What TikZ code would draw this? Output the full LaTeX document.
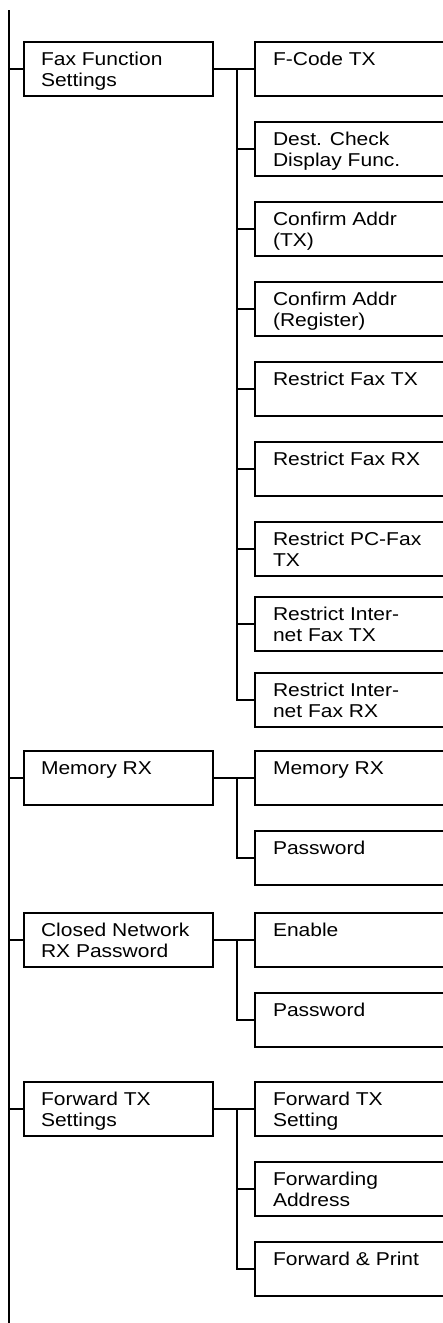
\documentclass[tikz,border=0pt]{standalone}
\usepackage{fontspec}
\setmainfont{Liberation Sans}[FakeStretch=1.13]
\newcommand{\lcell}[1]{\parbox[c][54pt][t]{154pt}{\rule{0pt}{23.5pt}#1}}
\newcommand{\rcell}[1]{\parbox[c][54pt][t]{163pt}{\rule{0pt}{23.5pt}#1}}
\begin{document}
\begin{tikzpicture}[x=1pt, y=-1pt, line width=2pt,
	menu/.style={draw, anchor=north west, outer sep=0pt, inner ysep=0pt, font=\fontsize{18.6}{21}\selectfont},
	lbox/.style={menu, inner xsep=17.5pt},
	rbox/.style={menu, inner xsep=18.5pt}]
			\useasboundingbox (0,0) rectangle (442,1323);
			\coordinate (top) at (9,10);
			\coordinate (bottom) at (9,1326);
			\coordinate (bus) at (237,0);
			\draw (top) -- (bottom);
			% first level
			\node[lbox] (fax) at (23.5,42) {\lcell{Fax Function\\Settings}};
			\node[lbox] (mem) at (23.5,751) {\lcell{Memory RX}};
			\node[lbox] (closed) at (23.5,913) {\lcell{Closed Network\\RX Password}};
			\node[lbox] (fwd) at (23.5,1082) {\lcell{Forward TX\\Settings}};
			% second level
			\node[rbox] (fcode) at (254.5,42) {\rcell{F-Code TX}};
			\node[rbox] (dest) at (254.5,122) {\rcell{Dest. Check\\Display Func.}};
			\node[rbox] (cfmtx) at (254.5,202) {\rcell{Confirm Addr\\(TX)}};
			\node[rbox] (cfmreg) at (254.5,282) {\rcell{Confirm Addr\\(Register)}};
			\node[rbox] (rfaxtx) at (254.5,362) {\rcell{Restrict Fax TX}};
			\node[rbox] (rfaxrx) at (254.5,442) {\rcell{Restrict Fax RX}};
			\node[rbox] (rpcfax) at (254.5,522) {\rcell{Restrict PC-Fax\\TX}};
			\node[rbox] (rinettx) at (254.5,597) {\rcell{Restrict Inter-\\net Fax TX}};
			\node[rbox] (rinetrx) at (254.5,673) {\rcell{Restrict Inter-\\net Fax RX}};
			\node[rbox] (memrx) at (254.5,751) {\rcell{Memory RX}};
			\node[rbox] (mempw) at (254.5,831) {\rcell{Password}};
			\node[rbox] (enable) at (254.5,913) {\rcell{Enable}};
			\node[rbox] (closedpw) at (254.5,993) {\rcell{Password}};
			\node[rbox] (fwdset) at (254.5,1082) {\rcell{Forward TX\\Setting}};
			\node[rbox] (fwdaddr) at (254.5,1162) {\rcell{Forwarding\\Address}};
			\node[rbox] (fwdprint) at (254.5,1242) {\rcell{Forward \& Print}};
			% stubs off the main line
			\foreach \n in {fax,mem,closed,fwd}
				\draw (\n.west -| top) -- (\n.west);
			% branches
			\draw (fax.east) -- (fcode.west);
			\foreach \n in {dest,cfmtx,cfmreg,rfaxtx,rfaxrx,rpcfax,rinettx,rinetrx}
				\draw (fax.east -| bus) |- (\n.west);
			\draw (mem.east) -- (memrx.west);
			\draw (mem.east -| bus) |- (mempw.west);
			\draw (closed.east) -- (enable.west);
			\draw (closed.east -| bus) |- (closedpw.west);
			\draw (fwd.east) -- (fwdset.west);
			\foreach \n in {fwdaddr,fwdprint}
				\draw (fwd.east -| bus) |- (\n.west);
		\end{tikzpicture}
\end{document}
